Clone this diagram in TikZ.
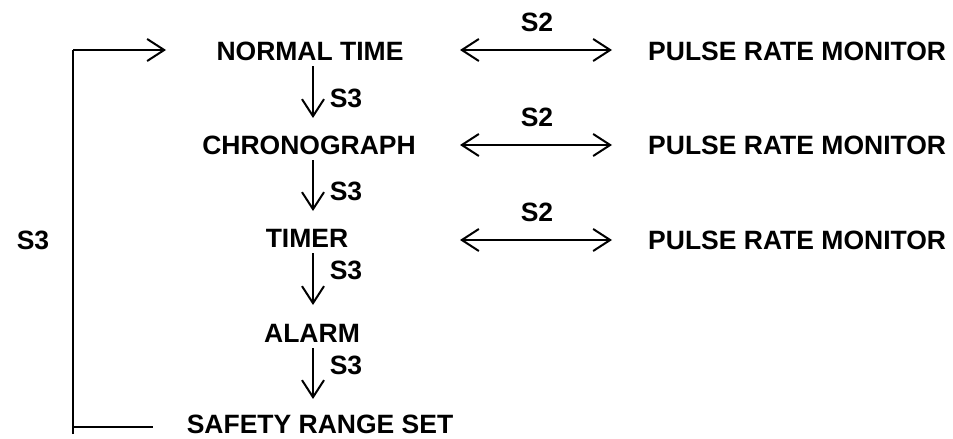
\documentclass[tikz,border=0pt]{standalone}
\usepackage{fontspec}
\setmainfont{Liberation Sans}
\usetikzlibrary{arrows.meta}
\begin{document}
\begin{tikzpicture}[x=1pt,y=-1pt,
  lbl/.style={font=\fontsize{26.5}{30}\selectfont\bfseries, inner sep=0pt, text height=19pt, text depth=0pt},
  conn/.style={line width=2pt, -{Straight Barb[length=17pt,width=22pt,line width=2pt]}},
  dconn/.style={line width=2pt, {Straight Barb[length=17pt,width=22pt,line width=2pt]}-{Straight Barb[length=17pt,width=22pt,line width=2pt]}},
  plain/.style={line width=2pt}]
\useasboundingbox (0,0) rectangle (953,439);
% main column
\node[lbl] (nt) at (310,51) {NORMAL TIME};
\node[lbl] (ch) at (309,145) {CHRONOGRAPH};
\node[lbl] (tm) at (307,238) {TIMER};
\node[lbl] (al) at (312,333) {ALARM};
\node[lbl] (sr) at (320,424) {SAFETY RANGE SET};
% pulse rate monitors
\node[lbl,anchor=west] (p1) at (648,51) {PULSE RATE MONITOR};
\node[lbl,anchor=west] (p2) at (648,145) {PULSE RATE MONITOR};
\node[lbl,anchor=west] (p3) at (648,240) {PULSE RATE MONITOR};
% S2 labels
\node[lbl] (s2a) at (537,22) {S2};
\node[lbl] (s2b) at (537,117) {S2};
\node[lbl] (s2c) at (537,212) {S2};
% S3 labels
\node[lbl] (s3a) at (346,98) {S3};
\node[lbl] (s3b) at (346,191) {S3};
\node[lbl] (s3c) at (346,270) {S3};
\node[lbl] (s3d) at (346,365) {S3};
\node[lbl] (s3l) at (33,240) {S3};
% coordinates for connectors
\coordinate (a1s) at (313,66);  \coordinate (a1e) at (313,118);
\coordinate (a2s) at (313,160); \coordinate (a2e) at (313,211);
\coordinate (a3s) at (313,253); \coordinate (a3e) at (313,305);
\coordinate (a4s) at (313,348); \coordinate (a4e) at (313,399);
\coordinate (h1l) at (460,50);  \coordinate (h1r) at (612,50);
\coordinate (h2l) at (460,145); \coordinate (h2r) at (612,145);
\coordinate (h3l) at (460,240); \coordinate (h3r) at (612,240);
\coordinate (lt) at (73,50);  \coordinate (ltip) at (166,50);
\coordinate (lb) at (73,427); \coordinate (lbe) at (153,427);
\coordinate (lbot) at (73,434);
% connectors
\draw[conn] (a1s) -- (a1e);
\draw[conn] (a2s) -- (a2e);
\draw[conn] (a3s) -- (a3e);
\draw[conn] (a4s) -- (a4e);
\draw[dconn] (h1l) -- (h1r);
\draw[dconn] (h2l) -- (h2r);
\draw[dconn] (h3l) -- (h3r);
\draw[plain] (lbot) -- (lt);
\draw[conn] (lt) -- (ltip);
\draw[plain] (lb) -- (lbe);
\end{tikzpicture}
\end{document}
